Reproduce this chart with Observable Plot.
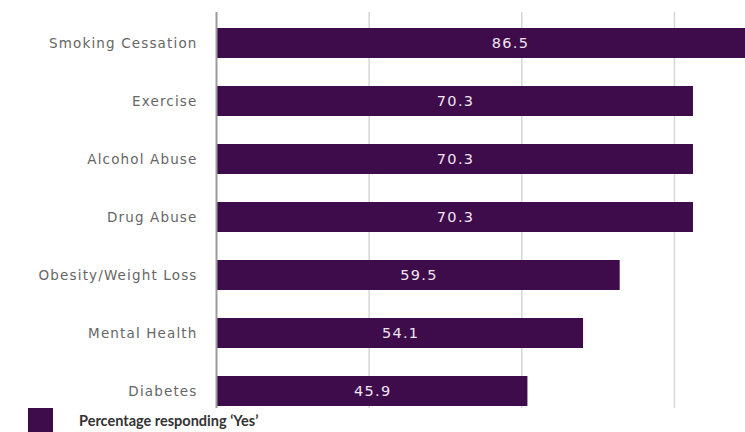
<!DOCTYPE html>
<html>
<head>
<meta charset="utf-8">
<script src="https://cdn.jsdelivr.net/npm/d3@7"></script>
<script src="https://cdn.jsdelivr.net/npm/@observablehq/plot@0.6"></script>
<style>
  body { margin: 0; background: #fff; }
  #wrap { position: relative; width: 745px; height: 432px; overflow: hidden; }
  #wrap .ylab text { letter-spacing: 1.15px; }
  #wrap .vlab text { letter-spacing: 1.3px; }
  #legend { position: absolute; left: 28px; top: 408px; display: flex; align-items: flex-start; }
  #legend .sw { width: 25px; height: 25px; background: #3e0b4b; }
  #legend .lb { margin-left: 26px; margin-top: 4px; font-family: Lato, "Open Sans", sans-serif; font-weight: bold; font-size: 14.5px; color: #333; }
</style>
</head>
<body>
<div id="wrap"></div>
<script>
const categories = ["Smoking Cessation", "Exercise", "Alcohol Abuse", "Drug Abuse", "Obesity/Weight Loss", "Mental Health", "Diabetes"];
const values = [86.5, 70.3, 70.3, 70.3, 59.5, 54.1, 45.9];
const gridTicks = [22.5, 45, 67.5];
const seriesName = "Percentage responding \u2018Yes\u2019";

const data = categories.map((c, i) => ({category: c, value: values[i]}));

const chart = Plot.plot({
  width: 745,
  height: 408,
  marginLeft: 216,
  marginRight: 0,
  marginTop: 12,
  marginBottom: 0,
  style: {fontFamily: "'DejaVu Sans', Verdana, sans-serif", overflow: "visible", background: "transparent"},
  x: {domain: [0, 77.97], range: [216, 745], clamp: true, axis: null},
  y: {domain: categories, range: [13, 420], paddingInner: 0.485, paddingOuter: 0.2425, axis: null},
  marks: [
    Plot.ruleX(gridTicks, {stroke: "#d6d6d6", strokeWidth: 1.5}),
    Plot.barX(data, {x: "value", y: "category", fill: "#3e0b4b"}),
    Plot.ruleX([0], {stroke: "#9a9a9a", strokeWidth: 2}),
    Plot.text(data, {x: d => d.value / 2, y: "category", text: d => d.value.toFixed(1), fill: "#efe6f0", fontSize: 14.5, dx: 0.6, className: "vlab"}),
    Plot.text(data, {x: 0, y: "category", text: "category", textAnchor: "end", dx: -19, fill: "#666", fontSize: 13.5, className: "ylab"})
  ]
});
document.getElementById("wrap").appendChild(chart);

const legend = document.createElement("div");
legend.id = "legend";
legend.innerHTML = `<div class="sw"></div><div class="lb"></div>`;
legend.querySelector(".lb").textContent = seriesName;
document.getElementById("wrap").appendChild(legend);
</script>
</body>
</html>
